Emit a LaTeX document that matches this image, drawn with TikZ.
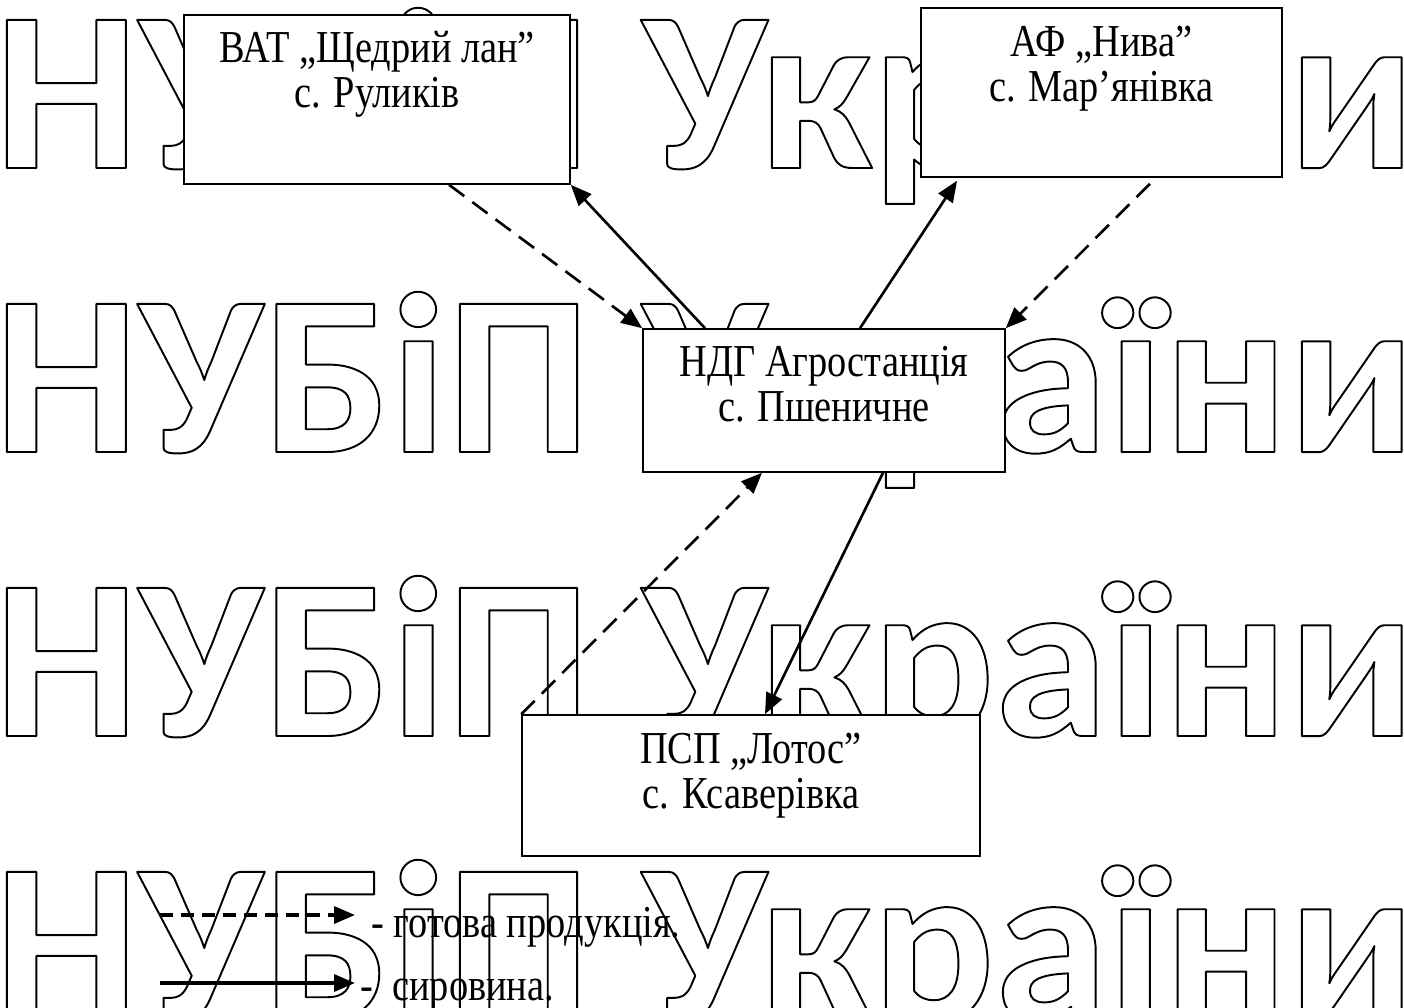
\documentclass[tikz,border=0pt]{standalone}
\usepackage{fontspec}
\usetikzlibrary{arrows.meta}
\setmainfont{Liberation Serif}[FakeStretch=0.84]
\newfontfamily\wmfont{Carlito}
\newcommand{\hollow}[1]{\special{pdf:literal direct 1 Tr 1 j 1.1 w}#1\special{pdf:literal direct 0 Tr 0 j}}

\begin{document}
\begin{tikzpicture}[x=0.02cm,y=-0.02cm,
    box/.style={draw, fill=white, line width=0.9pt, inner sep=0pt},
    lbl/.style={align=center, inner sep=0pt, font=\fontsize{26}{25.5}\selectfont},
    flow/.style={line width=1.5pt, -{Triangle[length=0.42cm,width=0.34cm]}},
    ready/.style={flow, dash pattern=on 0.38cm off 0.2cm}]
  \useasboundingbox (0,0) rectangle (1404,1008);
  \clip (0,0) rectangle (1404,1008);

  % watermark
  \foreach \y [count=\i] in {168,452,736,1020}
    \node[anchor=base west, inner sep=0pt,
      font=\wmfont\bfseries\fontsize{130}{130}\selectfont] (wm\i) at (-6,\y)
      {\hollow{НУБіП України}};

  % boxes
  \node[box, minimum width=7.72cm, minimum height=3.38cm] (vat) at (377,99.5) {};
  \node[box, minimum width=7.22cm, minimum height=3.38cm] (af) at (1101.5,92.5) {};
  \node[box, minimum width=7.24cm, minimum height=2.86cm] (ndg) at (824,400.5) {};
  \node[box, minimum width=9.16cm, minimum height=2.82cm] (psp) at (751,785.5) {};

  \node[lbl, anchor=north] (vat-t) at ([yshift=-0.34cm]vat.north) {ВАТ „Щедрий лан”\\с. Руликів};
  \node[lbl, anchor=north] (af-t) at ([yshift=-0.38cm]af.north) {АФ „Нива”\\с. Мар’янівка};
  \node[lbl, anchor=north] (ndg-t) at ([yshift=-0.36cm]ndg.north) {НДГ Агростанція\\с. Пшеничне};
  \node[lbl, anchor=north] (psp-t) at ([yshift=-0.38cm]psp.north) {ПСП „Лотос”\\с. Ксаверівка};

  % flows
  \draw[ready] ([xshift=1.44cm]vat.south) -- (ndg.north west);
  \draw[flow] ([xshift=-2.38cm]ndg.north) -- (vat.south east);
  \draw[flow] ([xshift=0.72cm]ndg.north) -- ([xshift=-2.89cm,yshift=-0.06cm]af.south);
  \draw[ready] ([xshift=0.97cm,yshift=-0.12cm]af.south) -- (ndg.north east);
  \draw[ready] (psp.north west) -- ([xshift=-1.24cm]ndg.south);
  \draw[flow] ([xshift=1.18cm]ndg.south) -- ([xshift=0.28cm]psp.north);

  % legend
  \coordinate (r1) at (160,915);
  \coordinate (r2) at (355,915);
  \coordinate (s1) at (160,983);
  \coordinate (s2) at (355,983);
  \node[lbl, anchor=base west] (rt) at (371,937) {- готова продукція.};
  \node[lbl, anchor=base west] (st) at (360,1000) {-\ \ сировина.};
  \draw[ready, line width=2pt, dash pattern=on 0.26cm off 0.16cm] (r1) -- (r2);
  \draw[flow, line width=2pt] (s1) -- (s2);
\end{tikzpicture}
\end{document}
